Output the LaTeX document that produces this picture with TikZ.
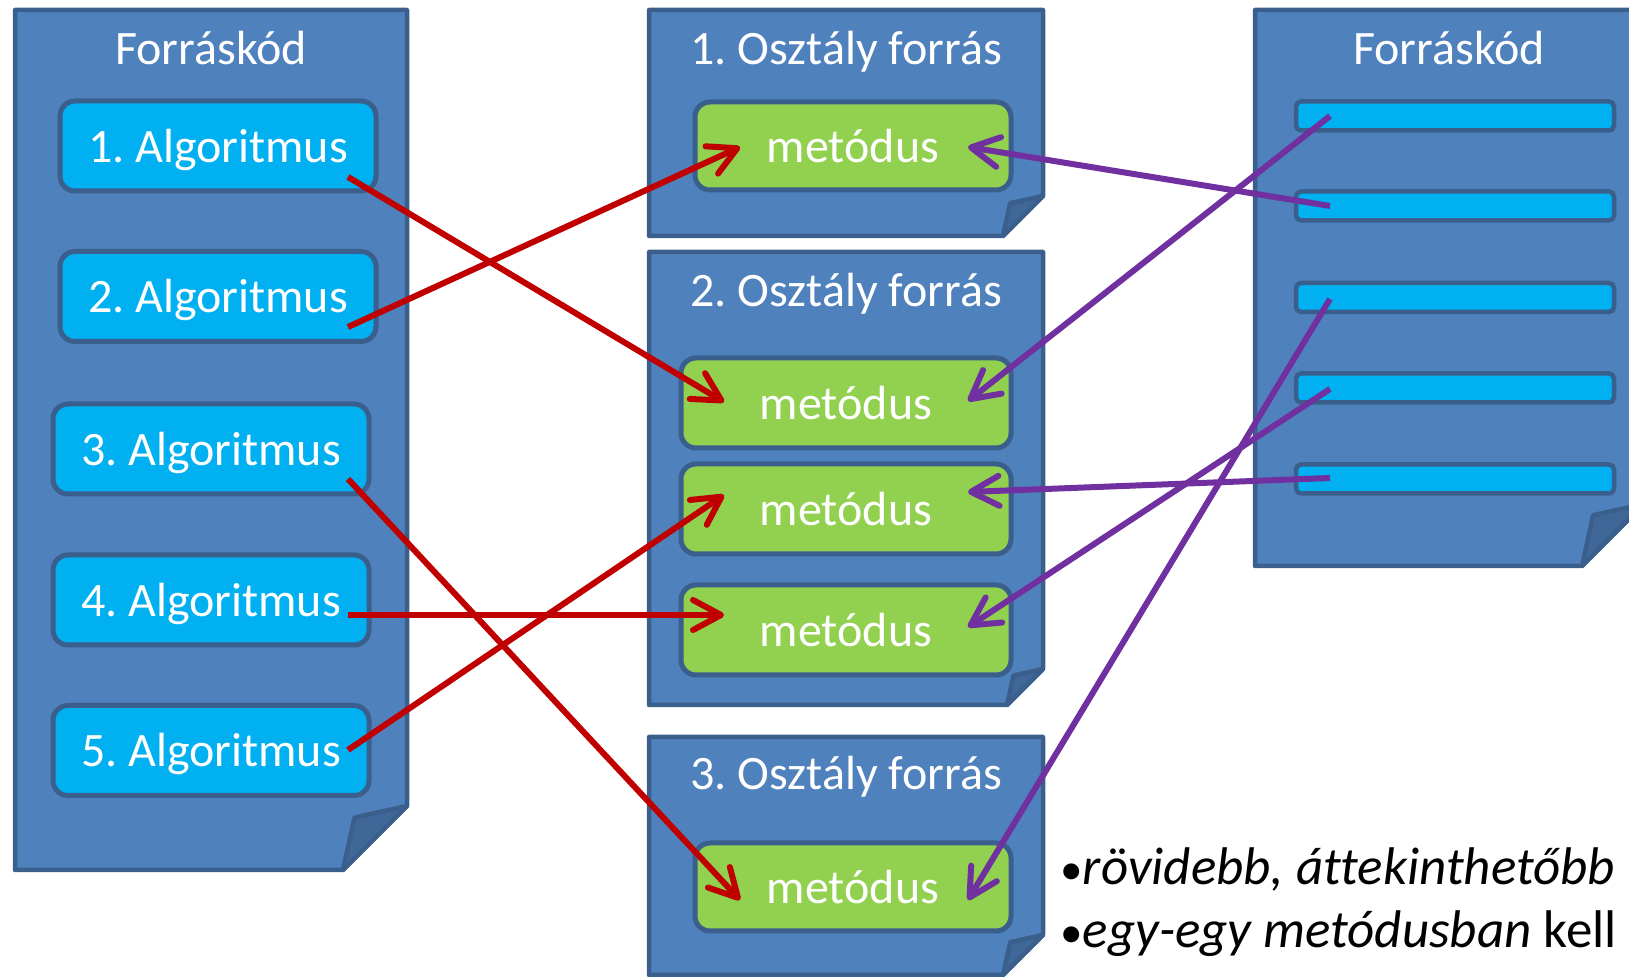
\documentclass[tikz,border=0pt]{standalone}
\usepackage{fontspec}
\setmainfont{Carlito}[Ligatures=NoCommon]
\usetikzlibrary{arrows.meta,calc}
\frenchspacing

\definecolor{pagefill}{HTML}{4F81BD}
\definecolor{pageline}{HTML}{3A5F8C}
\definecolor{foldfill}{HTML}{3F6797}
\definecolor{algofill}{HTML}{00B0F0}
\definecolor{methodfill}{HTML}{92D050}
\definecolor{linkred}{HTML}{C00000}
\definecolor{linkpurple}{HTML}{7030A0}

% a sheet with a folded lower right corner: x1 y1 x2 y2 fold
\newcommand\docpage[5]{%
  \filldraw[pagefill,draw=pageline,line width=2.25pt,line join=round]
    (#1,#2) -- (#3,#2) -- (#3,#4-#5) -- (#3-#5,#4) -- (#1,#4) -- cycle;
  \filldraw[foldfill,draw=pageline,line width=2.25pt,line join=round]
    (#3,#4-#5) -- (#3-0.82*#5,#4-0.82*#5) -- (#3-#5,#4) -- cycle;
}

\begin{document}
\begin{tikzpicture}[x=0.5pt,y=-0.5pt,
  boxfont/.style={font=\fontsize{24}{29}\selectfont},
  title/.style={boxfont,text=white,anchor=base,inner sep=0pt},
  boxbase/.style={boxfont,text=white,draw=pageline,line width=2.5pt,
    rounded corners=7.5pt,inner sep=0pt,text height=16.5pt,text depth=0pt},
  algo/.style={boxbase,fill=algofill,minimum width=158pt,minimum height=45pt},
  method/.style={boxbase,fill=methodfill,minimum height=45pt},
  bar/.style={fill=algofill,draw=pageline,line width=2.25pt,rounded corners=2.5pt,
    minimum width=159pt,minimum height=14.5pt,inner sep=0pt},
  link/.style={line width=3pt,-{Straight Barb[length=14pt,width=15pt,round]}},
  redlink/.style={link,linkred},
  purplelink/.style={link,linkpurple},
  note/.style={font=\fontsize{26.5}{32}\selectfont,text=black,inner sep=0pt,anchor=base west}]

\useasboundingbox (0,0) rectangle (1629,977);
\clip (0,0) rectangle (1629,977);

% sheets
\docpage{15}{10}{407}{870}{64}
\docpage{649}{10}{1043}{236}{40}
\docpage{649}{252}{1043}{705}{36}
\docpage{649}{737}{1043}{975}{40}
\docpage{1255}{10}{1644}{566}{62}

% sheet titles
\node[title] (t1) at (211,65) {Forráskód};
\node[title] (t2) at (846,65) {1. Osztály forrás};
\node[title] (t3) at (846,307) {2. Osztály forrás};
\node[title] (t4) at (846,790) {3. Osztály forrás};
\node[title] (t5) at (1449,65) {Forráskód};

% algorithms in the single source file
\node[algo] (a1) at (218,146) {1. Algoritmus};
\node[algo] (a2) at (218,296.5) {2. Algoritmus};
\node[algo] (a3) at (211,449) {3. Algoritmus};
\node[algo] (a4) at (211,600) {4. Algoritmus};
\node[algo] (a5) at (211,750.5) {5. Algoritmus};

% methods in the class sources
\node[method,minimum width=158pt,minimum height=44pt] (m1) at (853,146) {metódus};
\node[method,minimum width=165pt] (m2a) at (846,403) {metódus};
\node[method,minimum width=165pt] (m2b) at (846,509) {metódus};
\node[method,minimum width=165pt] (m2c) at (846,630) {metódus};
\node[method,minimum width=158pt,minimum height=44pt] (m3) at (853,887) {metódus};

% code blocks of the second source file
\node[bar] (b1) at (1455,116) {};
\node[bar] (b2) at (1455,206) {};
\node[bar] (b3) at (1455,297.5) {};
\node[bar] (b4) at (1455,388) {};
\node[bar] (b5) at (1455,479) {};

% algorithm -> method
\draw[redlink] ($(a1)+(130,31)$) -- ($(m2a)+(-122,-1)$);
\draw[redlink] ($(a2)+(130,30.5)$) -- ($(m1)+(-113,1)$);
\draw[redlink] ($(a3)+(137,30)$) -- ($(m3)+(-113,13)$);
\draw[redlink] ($(a4)+(137,15)$) -- ($(m2c)+(-122,-15)$);
\draw[redlink] ($(a5)+(137,-0.5)$) -- ($(m2b)+(-122,-14)$);

% code block -> method
\draw[purplelink] ($(b1)+(-125,0)$) -- ($(m2a)+(122,-2)$);
\draw[purplelink] ($(b2)+(-125,0)$) -- ($(m1)+(115,1)$);
\draw[purplelink] ($(b3)+(-125,1.5)$) -- ($(m3)+(115,13)$);
\draw[purplelink] ($(b4)+(-125,1)$) -- ($(m2c)+(122,-3)$);
\draw[purplelink] ($(b5)+(-125,-1)$) -- ($(m2b)+(122,-17)$);

% remarks
\node[note] (n1) at (1060,885) {\scalebox{0.85}{•}\textit{rövidebb, áttekinthetőbb}};
\node[note] (n2) at (1060,948) {\scalebox{0.85}{•}\textit{egy-egy metódusban} kell};
\end{tikzpicture}
\end{document}
